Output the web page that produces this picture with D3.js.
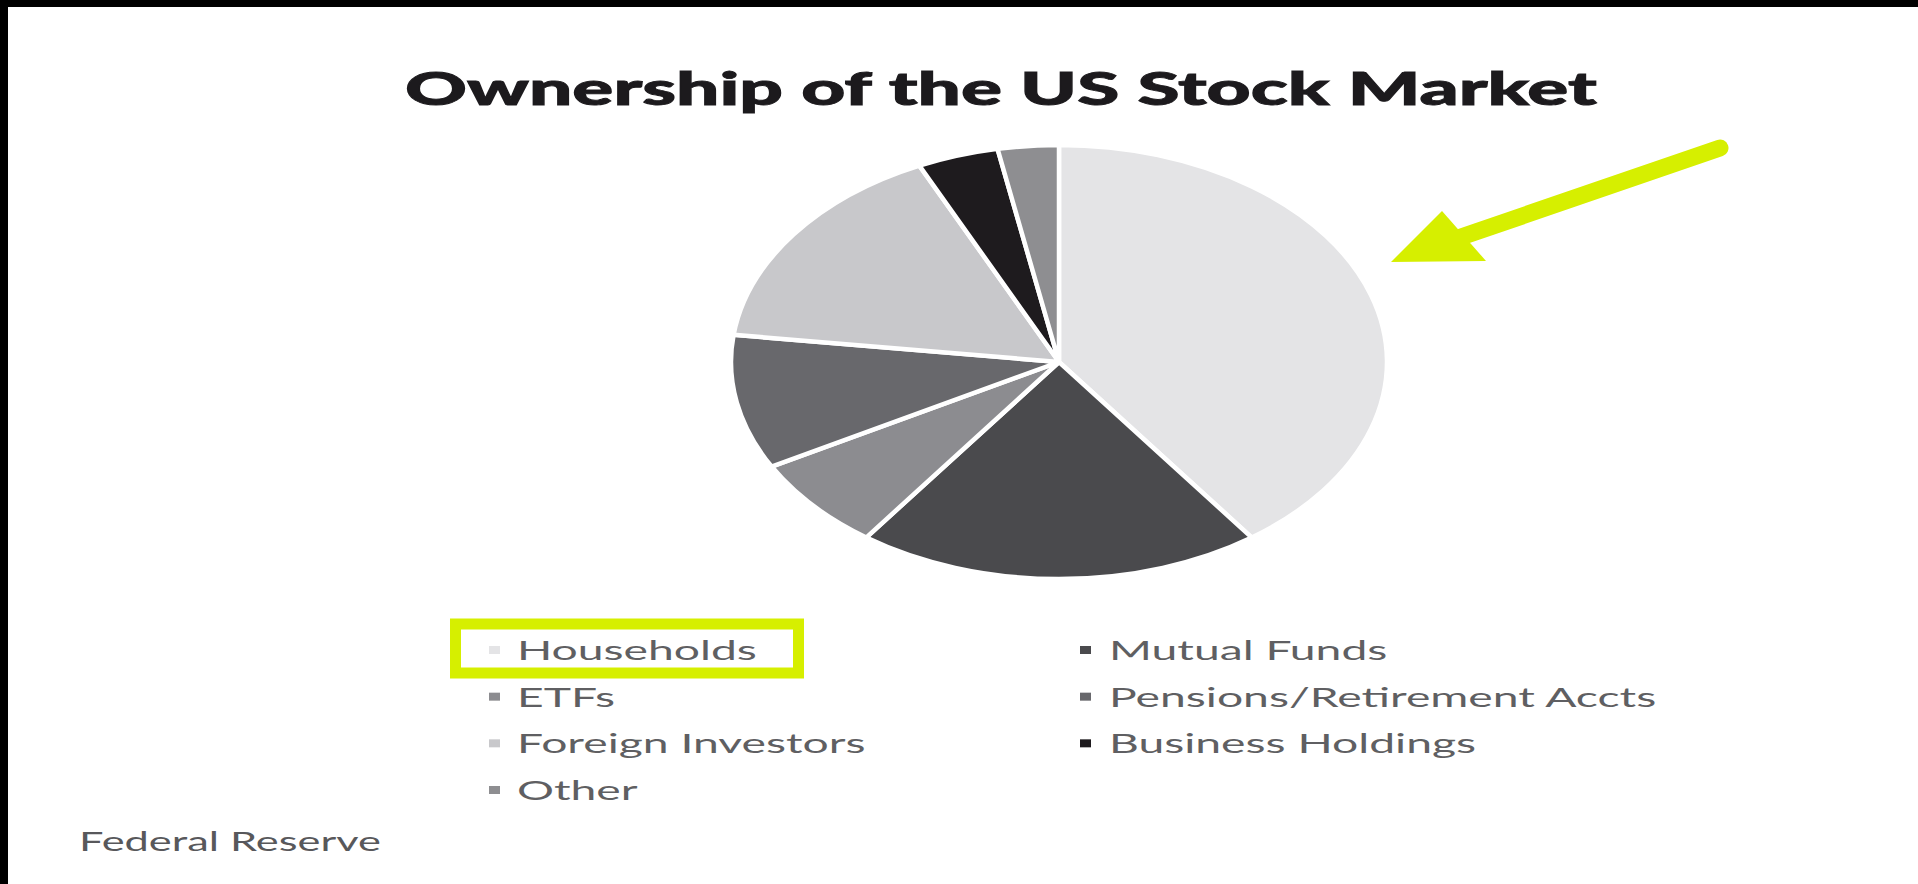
<!DOCTYPE html>
<html>
<head>
<meta charset="utf-8">
<script src="https://cdn.jsdelivr.net/npm/d3@7"></script>
<style>
  html, body { margin: 0; padding: 0; background: #fff; overflow: hidden; }
  svg { display: block; }
</style>
</head>
<body>
<svg width="1918" height="884"></svg>
<script>
// data
const categories = ["Households", "Mutual Funds", "ETFs", "Pensions/Retirement Accts",
                    "Foreign Investors", "Business Holdings", "Other"];
const shares = [40, 20, 7, 10, 16, 4, 3];
const sliceColors = ["#e4e4e6", "#4a4a4d", "#8c8c90", "#68686c", "#c8c8cb", "#1e1b1e", "#8e8e91"];
const titleText = "Ownership of the US Stock Market";
const sourceText = "Federal Reserve";

const width = 1918, height = 884;
const svg = d3.select("svg");

svg.append("rect").attr("width", width).attr("height", height).attr("fill", "#fff");
// black edges of the screenshot
svg.append("rect").attr("x", 0).attr("y", 0).attr("width", 8).attr("height", height).attr("fill", "#000");
svg.append("rect").attr("x", 0).attr("y", 0).attr("width", width).attr("height", 7).attr("fill", "#000");

// stretch a text element so it spans a given width
function fitWidth(sel, target) {
  const w = sel.node().getComputedTextLength();
  const x = +sel.attr("data-x"), y = +sel.attr("data-y");
  sel.attr("transform", `translate(${x},${y}) scale(${target / w},1)`);
  return target / w;
}

// title
const title = svg.append("text")
  .attr("data-x", 405).attr("data-y", 105)
  .attr("font-family", "Lato, sans-serif")
  .attr("font-weight", 900)
  .attr("font-size", "46px")
  .attr("fill", "#1c1a1d")
  .attr("stroke", "#1c1a1d")
  .attr("stroke-width", 0.9)
  .text(titleText);
fitWidth(title, 1192);

// pie (the original picture is stretched sideways, so the pie is an ellipse)
const cx = 1059, cy = 362, rx = 328, ry = 217;
const pie = d3.pie().sort(null).value(d => d.value);
const arc = d3.arc().innerRadius(0).outerRadius(ry);
const slices = categories.map((c, i) => ({ name: c, value: shares[i], color: sliceColors[i] }));

const gPie = svg.append("g")
  .attr("transform", `translate(${cx},${cy}) scale(${rx / ry},1)`);

gPie.selectAll("path")
  .data(pie(slices))
  .join("path")
    .attr("d", arc)
    .attr("fill", d => d.data.color)
    .attr("stroke", "#fff")
    .attr("stroke-width", 4.5)
    .attr("stroke-linejoin", "round")
    .attr("vector-effect", "non-scaling-stroke");

// legend, two columns
const legX = [489, 1080], legTextX = [517, 1109];
const rowY = d3.scaleLinear().domain([0, 3]).range([650, 790]);
const legend = svg.append("g");
let stretch = null;

slices.forEach((d, i) => {
  const col = i % 2, row = Math.floor(i / 2);
  const y = rowY(row);
  legend.append("rect")
    .attr("x", legX[col]).attr("y", y - 4)
    .attr("width", 11).attr("height", 8)
    .attr("fill", d.color);
  const t = legend.append("text")
    .attr("data-x", legTextX[col]).attr("data-y", y + 10)
    .attr("font-family", "Lato, sans-serif")
    .attr("font-size", "27px")
    .attr("fill", "#5f5f62")
    .text(d.name);
  if (stretch === null) stretch = fitWidth(t, 240);
  else t.attr("transform", `translate(${legTextX[col]},${y + 10}) scale(${stretch},1)`);
});

// highlight box round the first legend entry
svg.append("rect")
  .attr("x", 455.5).attr("y", 624)
  .attr("width", 343).attr("height", 49)
  .attr("fill", "none")
  .attr("stroke", "#d6ef00")
  .attr("stroke-width", 11);

// arrow pointing at the households slice
const arrowColor = "#d6ef00";
svg.append("line")
  .attr("x1", 1720).attr("y1", 148)
  .attr("x2", 1458).attr("y2", 238)
  .attr("stroke", arrowColor)
  .attr("stroke-width", 17)
  .attr("stroke-linecap", "round");
svg.append("path")
  .attr("d", "M1391,262 L1442,211 L1486,261 Z")
  .attr("fill", arrowColor);

// source
const src = svg.append("text")
  .attr("data-x", 79).attr("data-y", 851)
  .attr("font-family", "Lato, sans-serif")
  .attr("font-size", "27px")
  .attr("fill", "#58585b")
  .text(sourceText);
fitWidth(src, 302);
</script>
</body>
</html>
